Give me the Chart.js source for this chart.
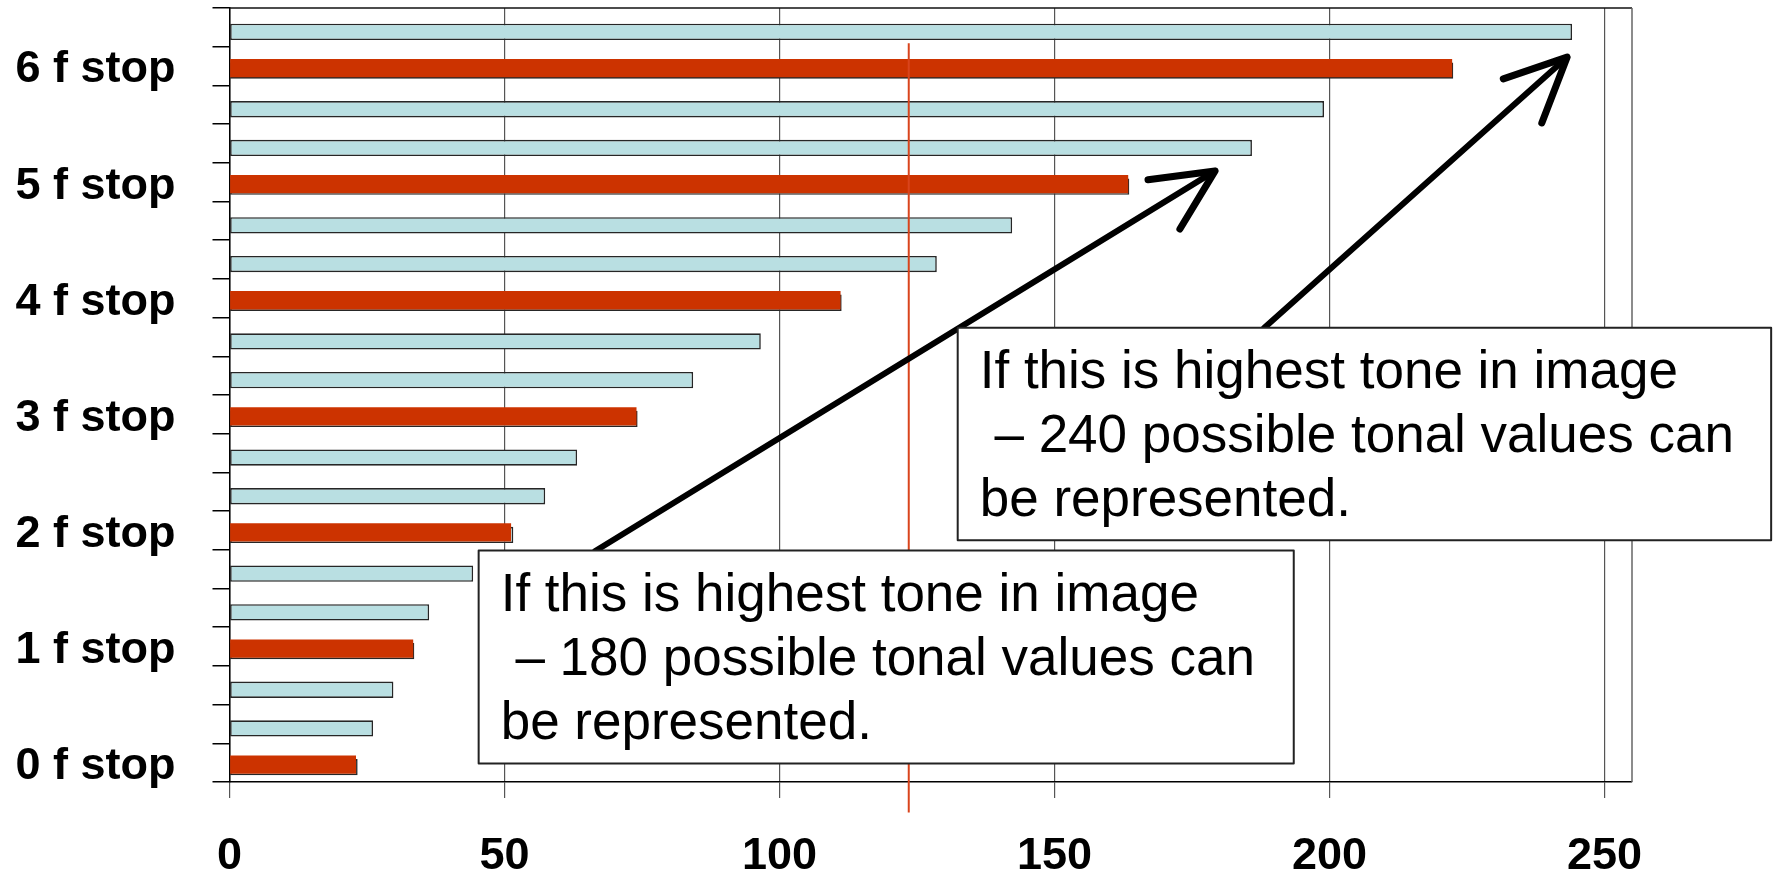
<!DOCTYPE html>
<html>
<head>
<meta charset="utf-8">
<title>f stop tonal values</title>
<script src="https://cdn.jsdelivr.net/npm/chart.js@4.4.1/dist/chart.umd.min.js"></script>
<style>
  body { margin: 0; background: #ffffff; }
  #wrap { width: 1773px; height: 874px; position: relative; }
</style>
</head>
<body>
<div id="wrap"><canvas id="stopChart"></canvas></div>
<script>
// categories, top to bottom (only the red rows carry a label)
const categories = ['', '6 f stop', '', '', '5 f stop', '', '', '4 f stop', '', '', '3 f stop', '', '', '2 f stop', '', '', '1 f stop', '', '', '0 f stop'];

// light blue bars, one per row
const blueValues = [244.1, 222.5, 199.0, 185.9, 163.6, 142.3, 128.6, 111.3, 96.6, 84.3, 74.2, 63.2, 57.4, 51.6, 44.3, 36.3, 33.6, 29.8, 26.1, 23.3];

// red bars on the whole f stops
const redValues = [null, 222.3, null, null, 163.4, null, null, 111.1, null, null, 74.0, null, null, 51.2, null, null, 33.4, null, null, 23.0];

const xTickValues = [0, 50, 100, 150, 200, 250];
const xMax = 255;

// thin red marker line
const markerValue = 123.5;

// annotation boxes: x in value units, y in row units
const noteBoxes = [
  { x0: 132.4, x1: 280.3, y0: 7.76, y1: 13.25,
    lines: ['If this is highest tone in image', ' \u2013 240 possible tonal values can', 'be represented.'] },
  { x0: 45.3, x1: 193.5, y0: 13.52, y1: 19.02,
    lines: ['If this is highest tone in image', ' \u2013 180 possible tonal values can', 'be represented.'] }
];

// arrows: start, tip and the two head ends
const arrows = [
  { from: [66.5, 13.53], to: [179.2, 3.71], head: [[167.0, 3.94], [172.8, 5.21]] },
  { from: [188.1, 7.77], to: [243.2, 0.77], head: [[231.6, 1.33], [238.6, 2.47]] }
];

const FONT = "'Liberation Sans', Arial, Helvetica, sans-serif";

// drop the half-label padding chart.js adds around the axes
function noPadding(scale) {
  scale.paddingTop = 0;
  scale.paddingBottom = 0;
  scale.paddingLeft = 0;
  scale.paddingRight = 0;
}

const overlayPlugin = {
  id: 'overlay',
  afterDatasetsDraw(chart) {
    const ctx = chart.ctx;
    const xs = chart.scales.x;
    const ys = chart.scales.y;
    const area = chart.chartArea;
    const px = v => xs.getPixelForValue(v);
    const py = i => ys.getPixelForValue(i);

    ctx.save();
    // plot frame: top and right
    ctx.lineWidth = 1.5;
    ctx.strokeStyle = '#111111';
    ctx.beginPath();
    ctx.moveTo(area.left, area.top);
    ctx.lineTo(area.right, area.top);
    ctx.stroke();
    ctx.strokeStyle = '#666666';
    ctx.beginPath();
    ctx.moveTo(area.right, area.top);
    ctx.lineTo(area.right, area.bottom);
    ctx.stroke();

    // red marker
    ctx.strokeStyle = '#d9441c';
    ctx.lineWidth = 2;
    ctx.beginPath();
    ctx.moveTo(px(markerValue), py(0.41));
    ctx.lineTo(px(markerValue), py(20.29));
    ctx.stroke();

    // arrows
    ctx.strokeStyle = '#000000';
    ctx.lineCap = 'round';
    ctx.lineJoin = 'round';
    arrows.forEach(a => {
      ctx.lineWidth = 6;
      ctx.beginPath();
      ctx.moveTo(px(a.from[0]), py(a.from[1]));
      ctx.lineTo(px(a.to[0]), py(a.to[1]));
      ctx.stroke();
      ctx.lineWidth = 7;
      ctx.beginPath();
      ctx.moveTo(px(a.head[0][0]), py(a.head[0][1]));
      ctx.lineTo(px(a.to[0]), py(a.to[1]));
      ctx.lineTo(px(a.head[1][0]), py(a.head[1][1]));
      ctx.stroke();
    });

    // note boxes
    noteBoxes.forEach(b => {
      const l = px(b.x0), r = px(b.x1), t = py(b.y0), btm = py(b.y1);
      ctx.fillStyle = '#ffffff';
      ctx.fillRect(l, t, r - l, btm - t);
      ctx.strokeStyle = '#222222';
      ctx.lineWidth = 2;
      ctx.strokeRect(l, t, r - l, btm - t);
      ctx.fillStyle = '#000000';
      ctx.font = '53px ' + FONT;
      ctx.textAlign = 'left';
      ctx.textBaseline = 'alphabetic';
      b.lines.forEach((line, k) => {
        ctx.fillText(line, l + 22, t + 60 + k * 64);
      });
    });
    ctx.restore();
  }
};

const ctx = document.getElementById('stopChart').getContext('2d');
new Chart(ctx, {
  type: 'bar',
  data: {
    labels: categories,
    datasets: [
      // two empty slots so the real bars sit a little below the row centre
      { label: 'slot a', data: [] },
      { label: 'slot b', data: [] },
      {
        label: 'f stop',
        data: redValues,
        backgroundColor: '#cc3300',
        borderWidth: 0,
        categoryPercentage: 0.4134,
        barPercentage: 4.575
      },
      {
        label: 'tone',
        data: blueValues,
        backgroundColor: '#b9dfe2',
        borderColor: '#262626',
        borderWidth: 1.6,
        borderSkipped: false,
        categoryPercentage: 0.31,
        barPercentage: 5.43
      }
    ]
  },
  options: {
    indexAxis: 'y',
    responsive: true,
    maintainAspectRatio: false,
    animation: false,
    layout: { padding: { left: 0, top: 8, right: 141, bottom: 0 } },
    scales: {
      x: {
        type: 'linear',
        min: 0,
        max: xMax,
        afterBuildTicks: scale => {
          scale.ticks = xTickValues.map(v => ({ value: v }));
        },
        afterFit: scale => { scale.height = 92; noPadding(scale); },
        grid: {
          color: '#555555',
          lineWidth: 1.2,
          tickLength: 16,
          drawTicks: true
        },
        border: { color: '#000000', width: 1.5 },
        ticks: {
          color: '#000000',
          padding: 32,
          font: { family: FONT, size: 45, weight: 'bold' }
        }
      },
      y: {
        type: 'category',
        afterFit: scale => { scale.width = 229.5; noPadding(scale); },
        grid: {
          drawOnChartArea: false,
          color: '#000000',
          lineWidth: 1.5,
          tickLength: 17
        },
        border: { color: '#000000', width: 1.5 },
        ticks: {
          autoSkip: false,
          color: '#000000',
          padding: 37,
          labelOffset: 4,
          font: { family: FONT, size: 45, weight: 'bold' }
        }
      }
    },
    plugins: {
      legend: { display: false },
      tooltip: { enabled: false }
    }
  },
  plugins: [overlayPlugin]
});
</script>
</body>
</html>
